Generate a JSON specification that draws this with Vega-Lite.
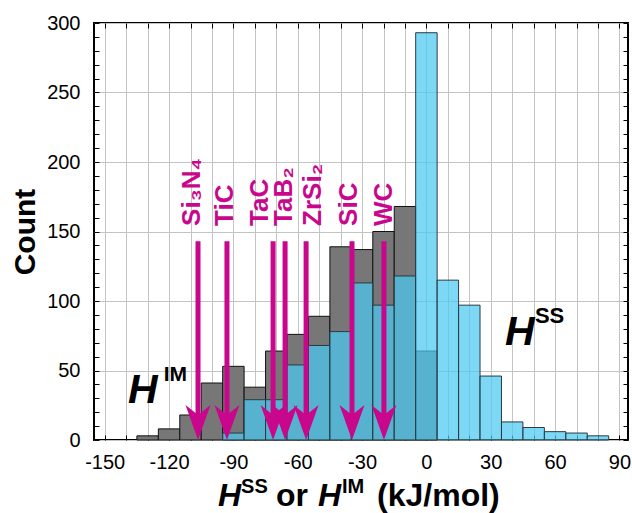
{
  "$schema": "https://vega.github.io/schema/vega-lite/v6.json",
  "width": 534,
  "height": 417,
  "autosize": {"type": "none"},
  "padding": {"left": 94, "top": 23, "right": 4, "bottom": 73},
  "background": "white",
  "config": {
    "font": "Liberation Sans",
    "view": {"stroke": "black", "strokeWidth": 2},
    "axis": {"labelFont": "Liberation Sans", "labelColor": "black", "labelFontSize": 20, "tickColor": "black", "tickWidth": 1, "domain": false, "gridColor": "#c4c4c4", "gridWidth": 1}
  },
  "datasets": {
    "bars": [
      {"series": "IM", "lo": -135, "hi": -125, "count": 3},
      {"series": "IM", "lo": -125, "hi": -115, "count": 8},
      {"series": "IM", "lo": -115, "hi": -105, "count": 18},
      {"series": "IM", "lo": -105, "hi": -95, "count": 41},
      {"series": "IM", "lo": -95, "hi": -85, "count": 53},
      {"series": "IM", "lo": -85, "hi": -75, "count": 38},
      {"series": "IM", "lo": -75, "hi": -65, "count": 64},
      {"series": "IM", "lo": -65, "hi": -55, "count": 76},
      {"series": "IM", "lo": -55, "hi": -45, "count": 89},
      {"series": "IM", "lo": -45, "hi": -35, "count": 139},
      {"series": "IM", "lo": -35, "hi": -25, "count": 137},
      {"series": "IM", "lo": -25, "hi": -15, "count": 150},
      {"series": "IM", "lo": -15, "hi": -5, "count": 168},
      {"series": "IM", "lo": -5, "hi": 5, "count": 64},
      {"series": "SS", "lo": -95, "hi": -85, "count": 5},
      {"series": "SS", "lo": -85, "hi": -75, "count": 29},
      {"series": "SS", "lo": -75, "hi": -65, "count": 29},
      {"series": "SS", "lo": -65, "hi": -55, "count": 54},
      {"series": "SS", "lo": -55, "hi": -45, "count": 68},
      {"series": "SS", "lo": -45, "hi": -35, "count": 78},
      {"series": "SS", "lo": -35, "hi": -25, "count": 113},
      {"series": "SS", "lo": -25, "hi": -15, "count": 97},
      {"series": "SS", "lo": -15, "hi": -5, "count": 118},
      {"series": "SS", "lo": -5, "hi": 5, "count": 293},
      {"series": "SS", "lo": 5, "hi": 15, "count": 115},
      {"series": "SS", "lo": 15, "hi": 25, "count": 97},
      {"series": "SS", "lo": 25, "hi": 35, "count": 46},
      {"series": "SS", "lo": 35, "hi": 45, "count": 13},
      {"series": "SS", "lo": 45, "hi": 55, "count": 9},
      {"series": "SS", "lo": 55, "hi": 65, "count": 6},
      {"series": "SS", "lo": 65, "hi": 75, "count": 5},
      {"series": "SS", "lo": 75, "hi": 85, "count": 3}
    ],
    "arrows": [
      {"compound": "Si₃N₄", "value": -106.5, "label_at": -109.1},
      {"compound": "TiC", "value": -93, "label_at": -94},
      {"compound": "TaC", "value": -71.5, "label_at": -77.6},
      {"compound": "TaB₂", "value": -65.9, "label_at": -66.4},
      {"compound": "ZrSi₂", "value": -56.1, "label_at": -52.9},
      {"compound": "SiC", "value": -34.7, "label_at": -35.9},
      {"compound": "WC", "value": -19.8, "label_at": -19.8}
    ],
    "one": [{}]
  },
  "resolve": {"axis": {"x": "independent", "y": "independent"}},
  "layer": [
    {
      "data": {"name": "bars"},
      "transform": [{"filter": "datum.series === 'IM'"}],
      "mark": {"type": "rect", "fill": "#777777", "stroke": "#111111", "strokeWidth": 1},
      "encoding": {
        "x": {"field": "lo", "type": "quantitative", "scale": {"domain": [-155, 94], "nice": false, "zero": false},
          "axis": {"orient": "bottom", "title": null, "values": [-150,-140,-130,-120,-110,-100,-90,-80,-70,-60,-50,-40,-30,-20,-10,0,10,20,30,40,50,60,70,80,90],
            "labelExpr": "datum.value % 30 === 0 ? '' + datum.value : ''", "tickSize": -5, "labelPadding": 17, "grid": true, "labelFlush": false, "labelOverlap": false}},
        "x2": {"field": "hi"},
        "y": {"field": "count", "type": "quantitative", "scale": {"domain": [0, 300], "nice": false},
          "axis": {"orient": "left", "title": "Count", "titleFontSize": 30, "titleFontWeight": "bold", "titleFont": "Liberation Sans", "titleColor": "black", "titlePadding": 6,
            "values": [0,10,20,30,40,50,60,70,80,90,100,110,120,130,140,150,160,170,180,190,200,210,220,230,240,250,260,270,280,290,300],
            "labelExpr": "datum.value % 50 === 0 ? '' + datum.value : ''", "tickSize": -5, "labelPadding": 19, "grid": true,
            "gridOpacity": {"condition": {"test": "datum.value % 50 === 0", "value": 1}, "value": 0}, "labelFlush": false, "labelOverlap": false}},
        "y2": {"datum": 0}
      }
    },
    {
      "data": {"name": "bars"},
      "transform": [{"filter": "datum.series === 'SS'"}],
      "mark": {"type": "rect", "fill": "#4ac9f1", "fillOpacity": 0.72, "stroke": "#2b3a42", "strokeWidth": 1},
      "encoding": {
        "x": {"field": "lo", "type": "quantitative", "scale": {"domain": [-155, 94], "nice": false, "zero": false},
          "axis": {"orient": "top", "title": null, "labels": false, "grid": false, "tickSize": -5,
            "values": [-150,-140,-130,-120,-110,-100,-90,-80,-70,-60,-50,-40,-30,-20,-10,0,10,20,30,40,50,60,70,80,90]}},
        "x2": {"field": "hi"},
        "y": {"field": "count", "type": "quantitative", "scale": {"domain": [0, 300], "nice": false},
          "axis": {"orient": "right", "title": null, "labels": false, "grid": false, "tickSize": -5,
            "values": [0,10,20,30,40,50,60,70,80,90,100,110,120,130,140,150,160,170,180,190,200,210,220,230,240,250,260,270,280,290,300]}},
        "y2": {"datum": 0}
      }
    },
    {
      "data": {"name": "arrows"},
      "mark": {"type": "rule", "color": "#c8078c", "strokeWidth": 5, "strokeCap": "butt"},
      "encoding": {
        "x": {"field": "value", "type": "quantitative", "scale": {"domain": [-155, 94], "nice": false, "zero": false}, "axis": null},
        "y": {"datum": 143, "type": "quantitative", "scale": {"domain": [0, 300], "nice": false}, "axis": null},
        "y2": {"datum": 15}
      }
    },
    {
      "data": {"name": "arrows"},
      "mark": {"type": "point", "shape": "M0,1.4L-1,-1.4L0,-0.6L1,-1.4Z", "size": 625, "filled": true, "fill": "#c8078c", "opacity": 1, "strokeWidth": 0, "yOffset": -17.5},
      "encoding": {
        "x": {"field": "value", "type": "quantitative", "scale": {"domain": [-155, 94], "nice": false, "zero": false}, "axis": null},
        "y": {"datum": 0, "type": "quantitative", "scale": {"domain": [0, 300], "nice": false}, "axis": null}
      }
    },
    {
      "data": {"name": "arrows"},
      "mark": {"type": "text", "angle": 270, "align": "left", "baseline": "middle", "font": "Liberation Sans", "fontWeight": "bold", "fontSize": 26, "color": "#c8078c"},
      "encoding": {
        "x": {"field": "label_at", "type": "quantitative", "scale": {"domain": [-155, 94], "nice": false, "zero": false}, "axis": null},
        "y": {"datum": 154, "type": "quantitative", "scale": {"domain": [0, 300], "nice": false}, "axis": null},
        "text": {"field": "compound"}
      }
    },
    {
      "data": {"name": "one"},
      "mark": {"type": "text", "text": "H", "align": "left", "baseline": "alphabetic", "font": "Liberation Sans", "fontWeight": "bold", "fontStyle": "italic", "fontSize": 41, "color": "black"},
      "encoding": {
        "x": {"datum": 36.6, "type": "quantitative", "scale": {"domain": [-155, 94], "nice": false, "zero": false}, "axis": null},
        "y": {"datum": 68.3, "type": "quantitative", "scale": {"domain": [0, 300], "nice": false}, "axis": null}
      }
    },
    {
      "data": {"name": "one"},
      "mark": {"type": "text", "text": "SS", "align": "left", "baseline": "alphabetic", "font": "Liberation Sans", "fontWeight": "bold", "fontSize": 22, "color": "black"},
      "encoding": {
        "x": {"datum": 50.6, "type": "quantitative", "scale": {"domain": [-155, 94], "nice": false, "zero": false}, "axis": null},
        "y": {"datum": 84.2, "type": "quantitative", "scale": {"domain": [0, 300], "nice": false}, "axis": null}
      }
    },
    {
      "data": {"name": "one"},
      "mark": {"type": "text", "text": "H", "align": "left", "baseline": "alphabetic", "font": "Liberation Sans", "fontWeight": "bold", "fontStyle": "italic", "fontSize": 41, "color": "black"},
      "encoding": {
        "x": {"datum": -139.1, "type": "quantitative", "scale": {"domain": [-155, 94], "nice": false, "zero": false}, "axis": null},
        "y": {"datum": 26.6, "type": "quantitative", "scale": {"domain": [0, 300], "nice": false}, "axis": null}
      }
    },
    {
      "data": {"name": "one"},
      "mark": {"type": "text", "text": "IM", "align": "left", "baseline": "alphabetic", "font": "Liberation Sans", "fontWeight": "bold", "fontSize": 21, "color": "black"},
      "encoding": {
        "x": {"datum": -122.5, "type": "quantitative", "scale": {"domain": [-155, 94], "nice": false, "zero": false}, "axis": null},
        "y": {"datum": 42.5, "type": "quantitative", "scale": {"domain": [0, 300], "nice": false}, "axis": null}
      }
    },
    {
      "data": {"name": "one"},
      "mark": {"type": "text", "text": "H", "align": "left", "baseline": "alphabetic", "font": "Liberation Sans", "fontWeight": "bold", "fontStyle": "italic", "fontSize": 32, "color": "black"},
      "encoding": {
        "x": {"datum": -97.2, "type": "quantitative", "scale": {"domain": [-155, 94], "nice": false, "zero": false}, "axis": null},
        "y": {"datum": -47.5, "type": "quantitative", "scale": {"domain": [0, 300], "nice": false}, "axis": null}
      }
    },
    {
      "data": {"name": "one"},
      "mark": {"type": "text", "text": "SS", "align": "left", "baseline": "alphabetic", "font": "Liberation Sans", "fontWeight": "bold", "fontSize": 20, "color": "black"},
      "encoding": {
        "x": {"datum": -86.4, "type": "quantitative", "scale": {"domain": [-155, 94], "nice": false, "zero": false}, "axis": null},
        "y": {"datum": -38.3, "type": "quantitative", "scale": {"domain": [0, 300], "nice": false}, "axis": null}
      }
    },
    {
      "data": {"name": "one"},
      "mark": {"type": "text", "text": "or", "align": "left", "baseline": "alphabetic", "font": "Liberation Sans", "fontWeight": "bold", "fontSize": 32, "color": "black"},
      "encoding": {
        "x": {"datum": -70.1, "type": "quantitative", "scale": {"domain": [-155, 94], "nice": false, "zero": false}, "axis": null},
        "y": {"datum": -47.5, "type": "quantitative", "scale": {"domain": [0, 300], "nice": false}, "axis": null}
      }
    },
    {
      "data": {"name": "one"},
      "mark": {"type": "text", "text": "H", "align": "left", "baseline": "alphabetic", "font": "Liberation Sans", "fontWeight": "bold", "fontStyle": "italic", "fontSize": 32, "color": "black"},
      "encoding": {
        "x": {"datum": -50.6, "type": "quantitative", "scale": {"domain": [-155, 94], "nice": false, "zero": false}, "axis": null},
        "y": {"datum": -47.5, "type": "quantitative", "scale": {"domain": [0, 300], "nice": false}, "axis": null}
      }
    },
    {
      "data": {"name": "one"},
      "mark": {"type": "text", "text": "IM", "align": "left", "baseline": "alphabetic", "font": "Liberation Sans", "fontWeight": "bold", "fontSize": 20, "color": "black"},
      "encoding": {
        "x": {"datum": -39.4, "type": "quantitative", "scale": {"domain": [-155, 94], "nice": false, "zero": false}, "axis": null},
        "y": {"datum": -38.3, "type": "quantitative", "scale": {"domain": [0, 300], "nice": false}, "axis": null}
      }
    },
    {
      "data": {"name": "one"},
      "mark": {"type": "text", "text": "(kJ/mol)", "align": "left", "baseline": "alphabetic", "font": "Liberation Sans", "fontWeight": "bold", "fontSize": 32, "color": "black"},
      "encoding": {
        "x": {"datum": -23.0, "type": "quantitative", "scale": {"domain": [-155, 94], "nice": false, "zero": false}, "axis": null},
        "y": {"datum": -47.5, "type": "quantitative", "scale": {"domain": [0, 300], "nice": false}, "axis": null}
      }
    }
  ]
}
